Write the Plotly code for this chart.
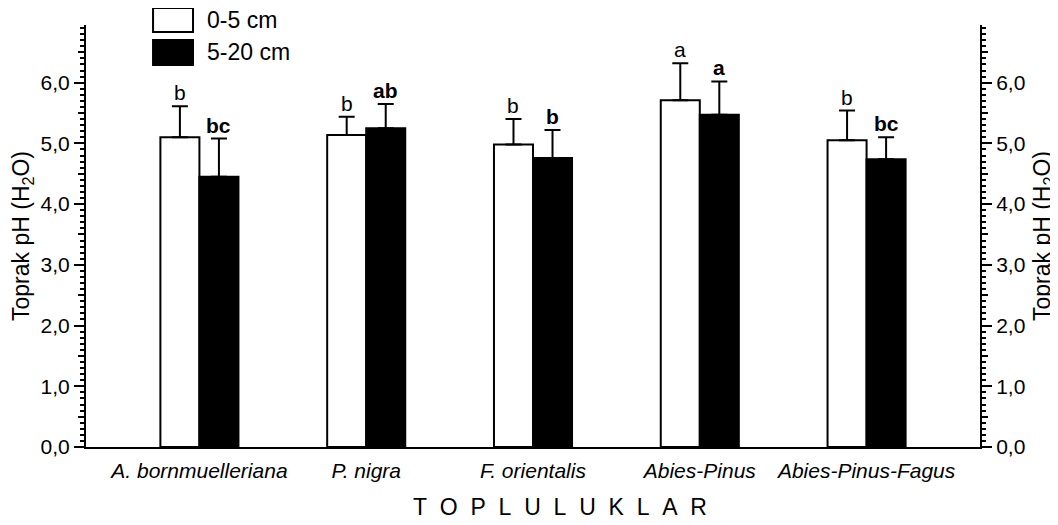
import plotly.graph_objects as go

categories = ["A. bornmuelleriana", "P. nigra", "F. orientalis", "Abies-Pinus", "Abies-Pinus-Fagus"]
ph_0_5 = [5.10, 5.14, 4.98, 5.71, 5.05]
err_0_5 = [0.51, 0.30, 0.42, 0.61, 0.49]
ph_5_20 = [4.45, 5.25, 4.76, 5.47, 4.74]
err_5_20 = [0.63, 0.40, 0.46, 0.55, 0.36]
letters_0_5 = ["b", "b", "b", "a", "b"]
letters_5_20 = ["bc", "ab", "b", "a", "bc"]
series_names = ["0-5 cm", "5-20 cm"]
y_ticks = [0, 1, 2, 3, 4, 5, 6]
y_mid_ticks = [0.5, 1.5, 2.5, 3.5, 4.5, 5.5, 6.5]

FONT = "Arial, Liberation Sans, sans-serif"
BARGAP = 0.532
off = (1 - BARGAP) / 4

fig = go.Figure()
fig.add_trace(go.Bar(
    x=categories, y=ph_0_5, name=series_names[0],
    marker=dict(color="white", line=dict(color="black", width=2)),
    error_y=dict(type="data", symmetric=False, array=err_0_5, arrayminus=[0]*5,
                 color="black", thickness=2, width=8),
    showlegend=False,
))
fig.add_trace(go.Bar(
    x=categories, y=ph_5_20, name=series_names[1],
    marker=dict(color="black", line=dict(color="black", width=2)),
    error_y=dict(type="data", symmetric=False, array=err_5_20, arrayminus=[0]*5,
                 color="black", thickness=2, width=8),
    showlegend=False,
))
# empty traces to anchor the extra y axes (right axis and half-unit ticks)
for ax in ["y2", "y3", "y4"]:
    fig.add_trace(go.Scatter(x=[], y=[], yaxis=ax, showlegend=False, hoverinfo="skip"))

ann = []
for i in range(len(categories)):
    ann.append(dict(x=i - off, y=ph_0_5[i] + err_0_5[i], xref="x", yref="y",
                    text=letters_0_5[i], showarrow=False, yanchor="bottom", yshift=0,
                    font=dict(size=21, family=FONT, color="black")))
    ann.append(dict(x=i + off, y=ph_5_20[i] + err_5_20[i], xref="x", yref="y",
                    text="<b>" + letters_5_20[i] + "</b>", showarrow=False, yanchor="bottom", yshift=0,
                    font=dict(size=21, family=FONT, color="black")))

# axis titles
ann.append(dict(x=-0.0716, y=0.5, xref="paper", yref="paper", text="Toprak pH (H<sub>2</sub>O)",
                textangle=-90, xanchor="center", yanchor="middle", showarrow=False,
                font=dict(size=23, family=FONT, color="black")))
ann.append(dict(x=1.0705, y=0.5, xref="paper", yref="paper", text="Toprak pH (H<sub>2</sub>O)",
                textangle=-90, xanchor="center", yanchor="middle", showarrow=False,
                font=dict(size=23, family=FONT, color="black")))
ann.append(dict(x=0.530, y=-0.142, xref="paper", yref="paper", xanchor="center", yanchor="middle",
                text="T  O  P  L  U  L  U  K  L  A  R".replace(" ", "&nbsp;"),
                showarrow=False, font=dict(size=23, family=FONT, color="black")))

# legend (drawn)
shapes = [
    dict(type="rect", xref="paper", yref="paper", x0=0.075, x1=0.1197, y0=0.9834, y1=1.0403,
         fillcolor="white", line=dict(color="black", width=2)),
    dict(type="rect", xref="paper", yref="paper", x0=0.075, x1=0.1197, y0=0.9052, y1=0.9645,
         fillcolor="black", line=dict(color="black", width=2)),
]
ann.append(dict(x=0.1331, y=1.012, xref="paper", yref="paper", text=series_names[0], xanchor="left",
                yanchor="middle", showarrow=False, font=dict(size=23, family=FONT, color="black")))
ann.append(dict(x=0.1331, y=0.935, xref="paper", yref="paper", text=series_names[1], xanchor="left",
                yanchor="middle", showarrow=False, font=dict(size=23, family=FONT, color="black")))

yrange = [0, 6.95]
common_y = dict(range=yrange, showgrid=False, zeroline=False)

fig.update_layout(
    width=1050, height=517,
    margin=dict(l=78, r=78, t=17, b=78),
    plot_bgcolor="white", paper_bgcolor="white",
    separators=",.",
    barmode="group", bargap=BARGAP, bargroupgap=0,
    font=dict(family=FONT, color="black"),
    annotations=ann, shapes=shapes,
    xaxis=dict(range=[-0.68, len(categories) - 1 + 0.68], showline=True, linecolor="black", linewidth=2,
               ticks="", showgrid=False, tickfont=dict(size=21, style="italic", family=FONT),
               ticklabelstandoff=4),
    yaxis=dict(**common_y, showline=True, linecolor="black", linewidth=2, side="left",
               tickvals=y_ticks, tickformat=".1f", ticks="outside", ticklen=10, tickwidth=2,
               tickcolor="black", tickfont=dict(size=21, family=FONT),
               minor=dict(dtick=0.1, ticks="outside", ticklen=4, tickwidth=1.5, tickcolor="black")),
    yaxis2=dict(**common_y, overlaying="y", side="right", anchor="x", showline=True, linecolor="black",
                linewidth=2, tickvals=y_ticks, tickformat=".1f", ticks="outside", ticklen=10, tickwidth=2,
                tickcolor="black", tickfont=dict(size=21, family=FONT),
                minor=dict(dtick=0.1, ticks="outside", ticklen=4, tickwidth=1.5, tickcolor="black")),
    yaxis3=dict(**common_y, overlaying="y", side="left", anchor="x", showline=False,
                tickvals=y_mid_ticks, ticks="outside", ticklen=7, tickwidth=2, tickcolor="black",
                showticklabels=False),
    yaxis4=dict(**common_y, overlaying="y", side="right", anchor="x", showline=False,
                tickvals=y_mid_ticks, ticks="outside", ticklen=7, tickwidth=2, tickcolor="black",
                showticklabels=False),
)

fig.write_html("out.html")
